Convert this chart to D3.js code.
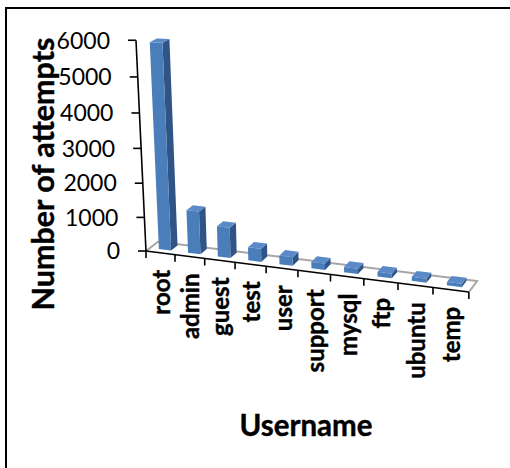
<!DOCTYPE html>
<html>
<head>
<meta charset="utf-8">
<script src="https://cdn.jsdelivr.net/npm/d3@7"></script>
<style>
html, body { margin: 0; padding: 0; background: #fff; }
text { font-family: Lato, "Open Sans", sans-serif; fill: #000; }
.heavy { stroke: #000; stroke-width: 0.4; }
</style>
</head>
<body>
<svg id="chart" width="510" height="468"></svg>
<script>
const usernames = ["root", "admin", "guest", "test", "user", "support", "mysql", "ftp", "ubuntu", "temp"];
const attempts = [5900, 1250, 880, 380, 250, 180, 150, 130, 110, 90];
const valueTicks = [0, 1000, 2000, 3000, 4000, 5000, 6000];
const yTitle = "Number of attempts";
const xTitle = "Username";

const svg = d3.select("#chart");

// Linear contributions of each 3D axis to the screen offset.
const slot = d3.scaleLinear().domain([0, usernames.length]).range([0, 1]);
const uScale = { x: d3.scaleLinear().domain([0, 1]).range([0, 287]), y: d3.scaleLinear().domain([0, 1]).range([0, 36.5]) };
const dScale = { x: d3.scaleLinear().domain([0, 1]).range([0, 12.2]), y: d3.scaleLinear().domain([0, 1]).range([0, -9.4]) };
const vScale = { x: d3.scaleLinear().domain([0, 6000]).range([0, -9.5]), y: d3.scaleLinear().domain([0, 6000]).range([0, -200]) };
const wScale = {
  u: d3.scaleLinear().domain([0, 1]).range([0, -0.111]),
  d: d3.scaleLinear().domain([0, 1]).range([0, 0.0147]),
  v: d3.scaleLinear().domain([0, 6000]).range([0, -0.051])
};
const origin = [146, 251];

// Perspective projection of (category position, depth, value) onto the page.
function project(u, d, v) {
  const t = slot(u);
  const w = 1 + wScale.u(t) + wScale.d(d) + wScale.v(v);
  return [
    origin[0] + (uScale.x(t) + dScale.x(d) + vScale.x(v)) / w,
    origin[1] + (uScale.y(t) + dScale.y(d) + vScale.y(v)) / w
  ];
}
const path = pts => "M" + pts.map(p => p.join(",")).join("L") + "Z";
const n = usernames.length;

// Chart frame: top and left rules only
svg.append("path").attr("fill", "none").attr("stroke", "#000").attr("stroke-width", 2)
  .attr("d", "M6,468V8H510");

// Floor edges
const floor = svg.append("g").attr("fill", "none").attr("stroke", "#a6a6a6");
floor.append("path").attr("stroke-width", 2)
  .attr("d", path([project(0, 0, 0), project(0, 1, 0), project(n, 1, 0), project(n, 0, 0)]).replace("Z", ""));

// Value axis
const valueAxis = svg.append("g").attr("stroke", "#000").attr("stroke-width", 1.6);
valueAxis.append("line")
  .attr("x1", project(0, 0, 0)[0]).attr("y1", project(0, 0, 0)[1])
  .attr("x2", project(0, 0, 6000)[0]).attr("y2", project(0, 0, 6000)[1]);
valueAxis.selectAll("line.tick").data(valueTicks).join("line").attr("class", "tick")
  .attr("x1", d => project(0, 0, d)[0] - 8).attr("x2", d => project(0, 0, d)[0])
  .attr("y1", d => project(0, 0, d)[1]).attr("y2", d => project(0, 0, d)[1]);
svg.append("g").selectAll("text").data(valueTicks).join("text")
  .attr("x", d => project(0, 0, d)[0] - 26)
  .attr("y", d => project(0, 0, d)[1])
  .attr("dy", "0.36em").attr("text-anchor", "end").attr("font-size", 23)
  .text(d => d);

// Category axis
const catAxis = svg.append("g").attr("stroke", "#000").attr("stroke-width", 1.6);
catAxis.append("line")
  .attr("x1", project(0, 0, 0)[0]).attr("y1", project(0, 0, 0)[1])
  .attr("x2", project(n, 0, 0)[0]).attr("y2", project(n, 0, 0)[1]);
catAxis.selectAll("line.tick").data(d3.range(n + 1)).join("line").attr("class", "tick")
  .attr("x1", d => project(d, 0, 0)[0]).attr("x2", d => project(d, 0, 0)[0])
  .attr("y1", d => project(d, 0, 0)[1]).attr("y2", d => project(d, 0, 0)[1] + 7);

// Bars: side, top and front faces of each box
const barLeft = 0.31, barRight = 0.73, depthFront = 0.33, depthBack = 0.88;
const bars = svg.append("g").selectAll("g").data(attempts).join("g");
bars.append("path").attr("fill", "#2f5485")
  .attr("d", (v, i) => path([
    project(i + barRight, depthFront, 0), project(i + barRight, depthBack, 0),
    project(i + barRight, depthBack, v), project(i + barRight, depthFront, v)]));
bars.append("path").attr("fill", "#5a8bc8")
  .attr("d", (v, i) => path([
    project(i + barLeft, depthFront, v), project(i + barRight, depthFront, v),
    project(i + barRight, depthBack, v), project(i + barLeft, depthBack, v)]));
bars.append("path").attr("fill", "#4a7ebb")
  .attr("d", (v, i) => path([
    project(i + barLeft, depthFront, 0), project(i + barRight, depthFront, 0),
    project(i + barRight, depthFront, v), project(i + barLeft, depthFront, v)]));

// Rotated category labels
svg.append("g").selectAll("text").data(usernames).join("text")
  .attr("class", "heavy")
  .attr("text-anchor", "end").attr("font-size", 24).attr("font-weight", 700)
  .attr("transform", (d, i) => {
    const p = project(i + 0.5, 0, 0);
    return `translate(${p[0] + 1},${p[1] + 17}) rotate(-90)`;
  })
  .attr("dy", "0.36em")
  .text(d => d);

// Axis titles
svg.append("text").attr("class", "heavy").attr("transform", "translate(43,174) rotate(-90)")
  .attr("text-anchor", "middle").attr("dy", "0.36em")
  .attr("font-size", 30.5).attr("font-weight", 700).text(yTitle);
svg.append("text").attr("class", "heavy").attr("x", 306).attr("y", 425)
  .attr("text-anchor", "middle").attr("dy", "0.36em")
  .attr("font-size", 29.5).attr("font-weight", 700).text(xTitle);
</script>
</body>
</html>
